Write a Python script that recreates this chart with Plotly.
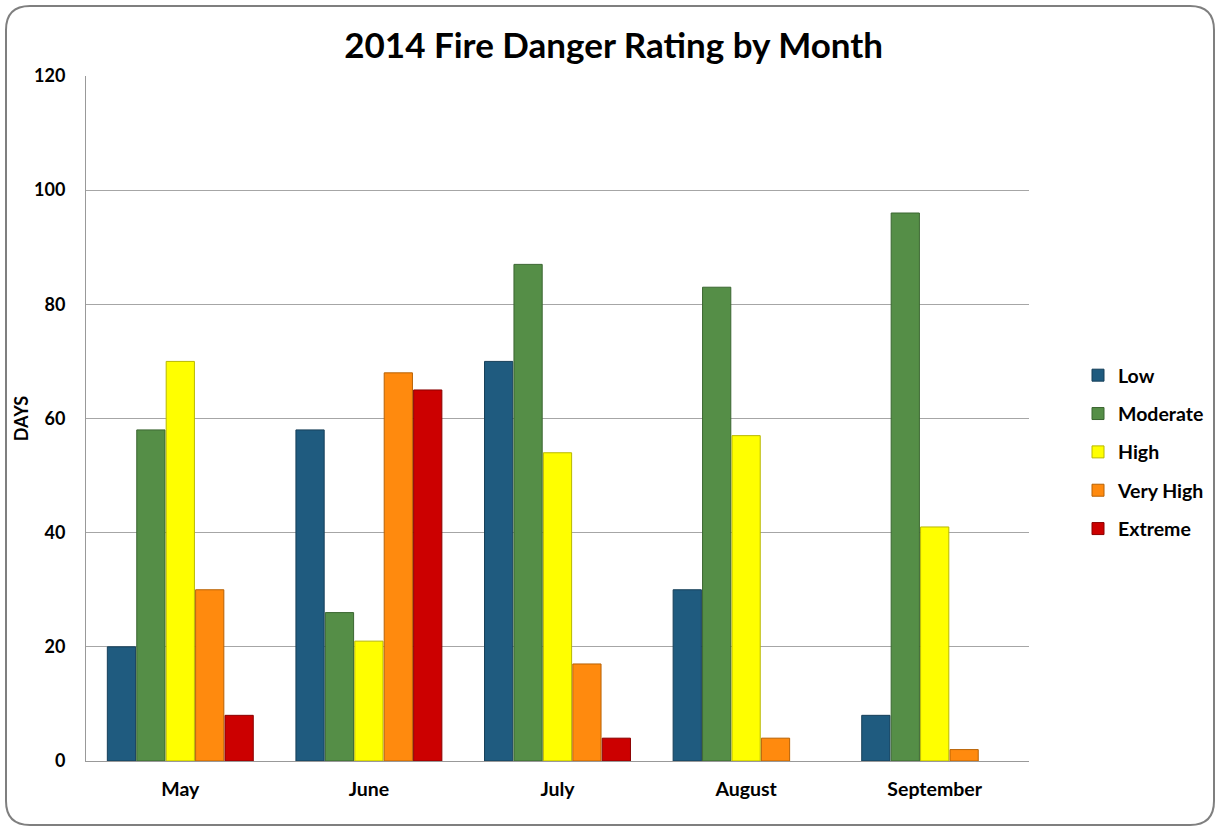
import plotly.graph_objects as go

months = ["May", "June", "July", "August", "September"]
low = [20, 58, 70, 30, 8]
moderate = [58, 26, 87, 83, 96]
high = [70, 21, 54, 57, 41]
very_high = [30, 68, 17, 4, 2]
extreme = [8, 65, 4, 0, 0]

series_names = ["Low", "Moderate", "High", "Very High", "Extreme"]
series_values = [low, moderate, high, very_high, extreme]
colors = ["#1F5B7F", "#558E47", "#FFFF00", "#FF8A0E", "#CC0000"]
edges = ["#163F59", "#3B6631", "#B8B800", "#B86205", "#8A0000"]

fig = go.Figure()
for i, (name, vals) in enumerate(zip(series_names, series_values)):
    fig.add_trace(go.Bar(
        x=months, y=vals, name=f"<b>{name}</b>", legendgroup=name,
        marker=dict(color=colors[i],
                    line=dict(color=edges[i], width=[0 if v == 0 else 1 for v in vals])),
    ))

L, R, T, B = 86, 191, 76, 70
W, H = 1220, 831
pw, ph = W - L - R, H - T - B

def px(x):
    return (x - L) / pw

def py(y):
    return (H - B - y) / ph

# rounded outer border path
x0, x1, y0, y1, r = 6, 1214, 6, 825, 24
path = (
    f"M {px(x0 + r)},{py(y0)} L {px(x1 - r)},{py(y0)} "
    f"Q {px(x1)},{py(y0)} {px(x1)},{py(y0 + r)} "
    f"L {px(x1)},{py(y1 - r)} Q {px(x1)},{py(y1)} {px(x1 - r)},{py(y1)} "
    f"L {px(x0 + r)},{py(y1)} Q {px(x0)},{py(y1)} {px(x0)},{py(y1 - r)} "
    f"L {px(x0)},{py(y0 + r)} Q {px(x0)},{py(y0)} {px(x0 + r)},{py(y0)} Z"
)

font_family = "Lato, 'Open Sans', sans-serif"

fig.update_layout(
    width=W, height=H,
    margin=dict(l=L, r=R, t=T, b=B, autoexpand=False),
    paper_bgcolor="white", plot_bgcolor="white",
    barmode="group", bargap=0.22, bargroupgap=0.04,
    font=dict(family=font_family, color="#000000"),
    title=dict(text="<b>2014 Fire Danger Rating by Month</b>",
               x=0.503, xref="container", xanchor="center",
               y=1 - 46 / H, yanchor="middle",
               font=dict(size=35, family=font_family, color="#000000")),
    xaxis=dict(showgrid=False, showline=True, linecolor="#999999", linewidth=1,
               ticks="", tickfont=dict(size=19.5, family=font_family),
               ticklabelstandoff=11),
    yaxis=dict(range=[0, 120], dtick=20, showgrid=True, gridcolor="#A6A6A6",
               gridwidth=1, showline=True, linecolor="#999999", linewidth=1,
               ticks="", ticklen=0, tickfont=dict(size=18, family=font_family),
               tickprefix="<b>", ticksuffix="</b>", zeroline=False,
               ticklabelstandoff=16,
               title=dict(text="<b>DAYS</b>", font=dict(size=18), standoff=0)),
    legend=dict(x=px(1078), xanchor="left", y=py(356), yanchor="top",
                font=dict(size=19.5, family=font_family),
                traceorder="grouped", tracegroupgap=10,
                itemwidth=30, bgcolor="rgba(0,0,0,0)"),
    shapes=[dict(type="path", path=path, xref="paper", yref="paper",
                 line=dict(color="#7F7F7F", width=2), fillcolor="rgba(0,0,0,0)",
                 layer="below")],
)
fig.update_xaxes(tickvals=months, ticktext=[f"<b>{m}</b>" for m in months])

fig.write_html("out.html", config={"displayModeBar": False},
               post_script="document.body.style.margin='0';document.body.style.overflow='hidden';")
